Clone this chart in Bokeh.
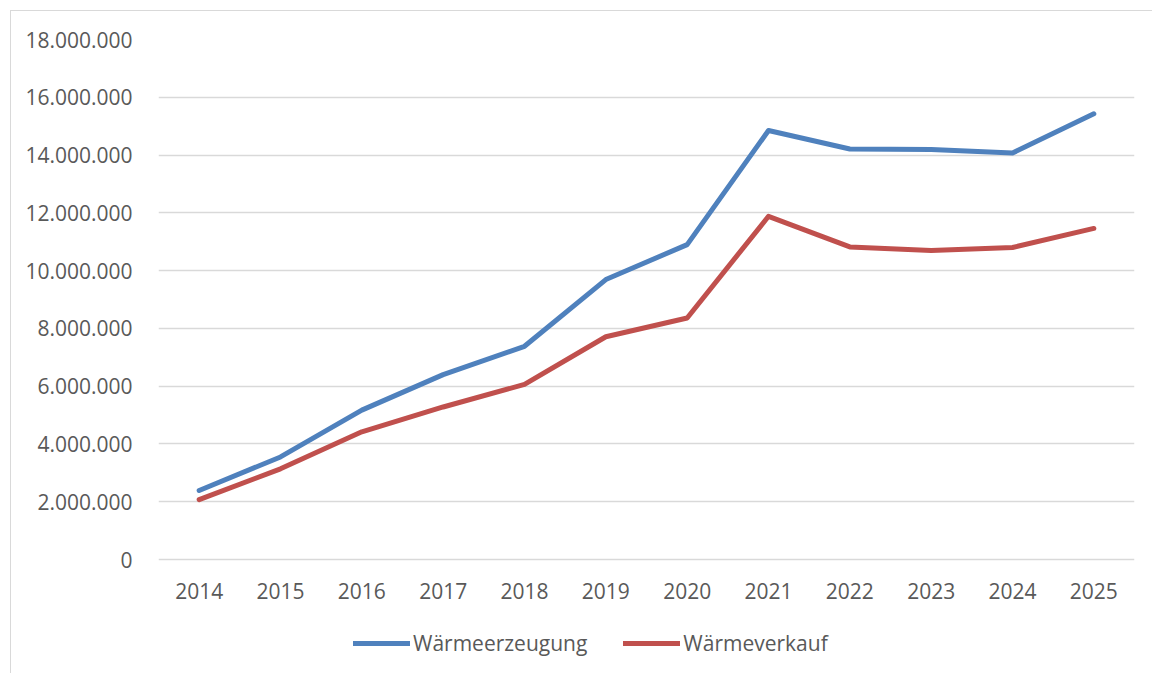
from bokeh.plotting import figure
from bokeh.models import ColumnDataSource, Range1d, FixedTicker, CustomJSTickFormatter, Legend, LegendItem
from bokeh.embed import file_html
from bokeh.resources import INLINE

years = ["2014", "2015", "2016", "2017", "2018", "2019", "2020", "2021", "2022", "2023", "2024", "2025"]
waermeerzeugung = [2390000, 3550000, 5170000, 6400000, 7380000, 9690000, 10900000, 14850000, 14210000, 14190000, 14070000, 15430000]
waermeverkauf = [2070000, 3140000, 4420000, 5280000, 6060000, 7710000, 8360000, 11880000, 10820000, 10700000, 10800000, 11460000]
y_ticks = [0, 2000000, 4000000, 6000000, 8000000, 10000000, 12000000, 14000000, 16000000, 18000000]
series_names = ["Wärmeerzeugung", "Wärmeverkauf"]

FONT = "Open Sans"
TXT = "#595959"
BLUE = "#4F81BD"
RED = "#C0504D"

# plot area: 520 px for 0..18M, plus 110 px below zero for the axis labels and legend
Y_MAX = 18000000
Y_MIN = -Y_MAX * 110 / 520

source = ColumnDataSource(data=dict(year=years, erz=waermeerzeugung, verk=waermeverkauf))

p = figure(
    x_range=years,
    y_range=Range1d(Y_MIN, Y_MAX),
    frame_width=976, frame_height=630,
    output_backend="svg", toolbar_location=None,
    min_border_left=147, min_border_right=18, min_border_top=28, min_border_bottom=4,
)
p.styles = {"border-left": "1px solid #d9d9d9", "border-top": "1px solid #d9d9d9",
            "margin-left": "10px", "margin-top": "10px"}
p.outline_line_color = None
p.background_fill_color = "white"
p.border_fill_color = "white"

r1 = p.line("year", "erz", source=source, line_color=BLUE, line_width=5, line_cap="round", line_join="round")
r2 = p.line("year", "verk", source=source, line_color=RED, line_width=5, line_cap="round", line_join="round")

p.xgrid.grid_line_color = None
p.ygrid.grid_line_color = "#d9d9d9"
p.ygrid.grid_line_width = 1.5

p.yaxis.ticker = FixedTicker(ticks=y_ticks)
p.yaxis.formatter = CustomJSTickFormatter(code="""
return Math.round(tick).toString().replace(/\\B(?=(\\d{3})+(?!\\d))/g, ".");
""")
for ax in (p.xaxis, p.yaxis):
    ax.axis_line_color = None
    ax.major_tick_line_color = None
    ax.minor_tick_line_color = None
    ax.major_label_text_font = FONT
    ax.major_label_text_font_size = "21px"
    ax.major_label_text_color = TXT
p.yaxis.major_label_standoff = 20
p.xaxis.major_label_standoff = 17
p.xaxis.fixed_location = 0

legend = Legend(
    items=[LegendItem(label=series_names[0], renderers=[r1]),
           LegendItem(label=series_names[1], renderers=[r2])],
    orientation="horizontal",
    location=(195, 12),
    glyph_width=57, glyph_height=20,
    label_standoff=3, spacing=36, padding=0, margin=0,
    label_text_font=FONT, label_text_font_size="21px", label_text_color=TXT,
    border_line_color=None, background_fill_alpha=0,
)
p.add_layout(legend, "center")

open("out.html", "w").write(file_html(p, INLINE))
